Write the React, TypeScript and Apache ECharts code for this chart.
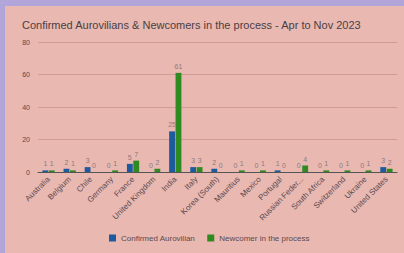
import React, { useEffect, useRef } from "react";
import * as echarts from "echarts";

const categories = [
  "Australia", "Belgium", "Chile", "Germany", "France", "United Kingdom", "India",
  "Italy", "Korea (South)", "Mauritius", "Mexico", "Portugal", "Russian Feder...",
  "South Africa", "Switzerland", "Ukraine", "United States",
];
const confirmed = [1, 2, 3, 0, 5, 0, 25, 3, 2, 0, 0, 1, 0, 0, 0, 0, 3];
const newcomers = [1, 1, 0, 1, 7, 2, 61, 3, 0, 1, 1, 0, 4, 1, 1, 1, 2];
const yTicks = { min: 0, max: 80, interval: 20 };

export default function App() {
  const ref = useRef<HTMLDivElement>(null);
  useEffect(() => {
    const chart = echarts.init(ref.current!, undefined, { renderer: "svg" });
    const font = "Arial, 'Liberation Sans', sans-serif";
    chart.setOption({
      animation: false,
      backgroundColor: "#b2a5d9",
      graphic: [
        { type: "rect", left: 5, top: 6, shape: { width: 399, height: 247 }, style: { fill: "#e9b8b0" }, z: -10 },
      ],
      title: {
        text: "Confirmed Aurovilians & Newcomers in the process - Apr to Nov 2023",
        left: 17,
        top: 14,
        textStyle: { fontSize: 11, fontWeight: "normal", color: "#4a3f45", fontFamily: font },
      },
      grid: { left: 38, right: 7, top: 42, bottom: 81 },
      legend: {
        bottom: 6,
        left: 104,
        itemWidth: 7,
        itemHeight: 7,
        itemGap: 12,
        icon: "rect",
        textStyle: { fontSize: 8, color: "#5a4a50", fontFamily: font },
        data: ["Confirmed Aurovilian", "Newcomer in the process"],
      },
      xAxis: {
        type: "category",
        data: categories,
        axisTick: { show: false },
        axisLine: { lineStyle: { color: "#555", width: 1 } },
        axisLabel: { rotate: 45, fontSize: 8, color: "#5a4a50", interval: 0, fontFamily: font, margin: 6 },
      },
      yAxis: {
        type: "value",
        min: yTicks.min,
        max: yTicks.max,
        interval: yTicks.interval,
        axisLabel: { fontSize: 7, color: "#5a4a50", fontFamily: font, margin: 8 },
        splitLine: { lineStyle: { color: "#cf9b94", width: 1 } },
      },
      series: [
        {
          name: "Confirmed Aurovilian",
          type: "bar",
          data: confirmed,
          itemStyle: { color: "#1d5a9e" },
          barGap: "10%",
          barCategoryGap: "42%",
          label: { show: true, position: "top", fontSize: 7, color: "#8a7a80", distance: 3, fontFamily: font },
        },
        {
          name: "Newcomer in the process",
          type: "bar",
          data: newcomers,
          itemStyle: { color: "#2f8a22" },
          label: { show: true, position: "top", fontSize: 7, color: "#8a7a80", distance: 3, fontFamily: font },
        },
      ],
    });
    return () => chart.dispose();
  }, []);
  return (
    <div
      ref={ref}
      style={{ position: "absolute", left: 0, top: 0, width: 404, height: 253 }}
    />
  );
}
